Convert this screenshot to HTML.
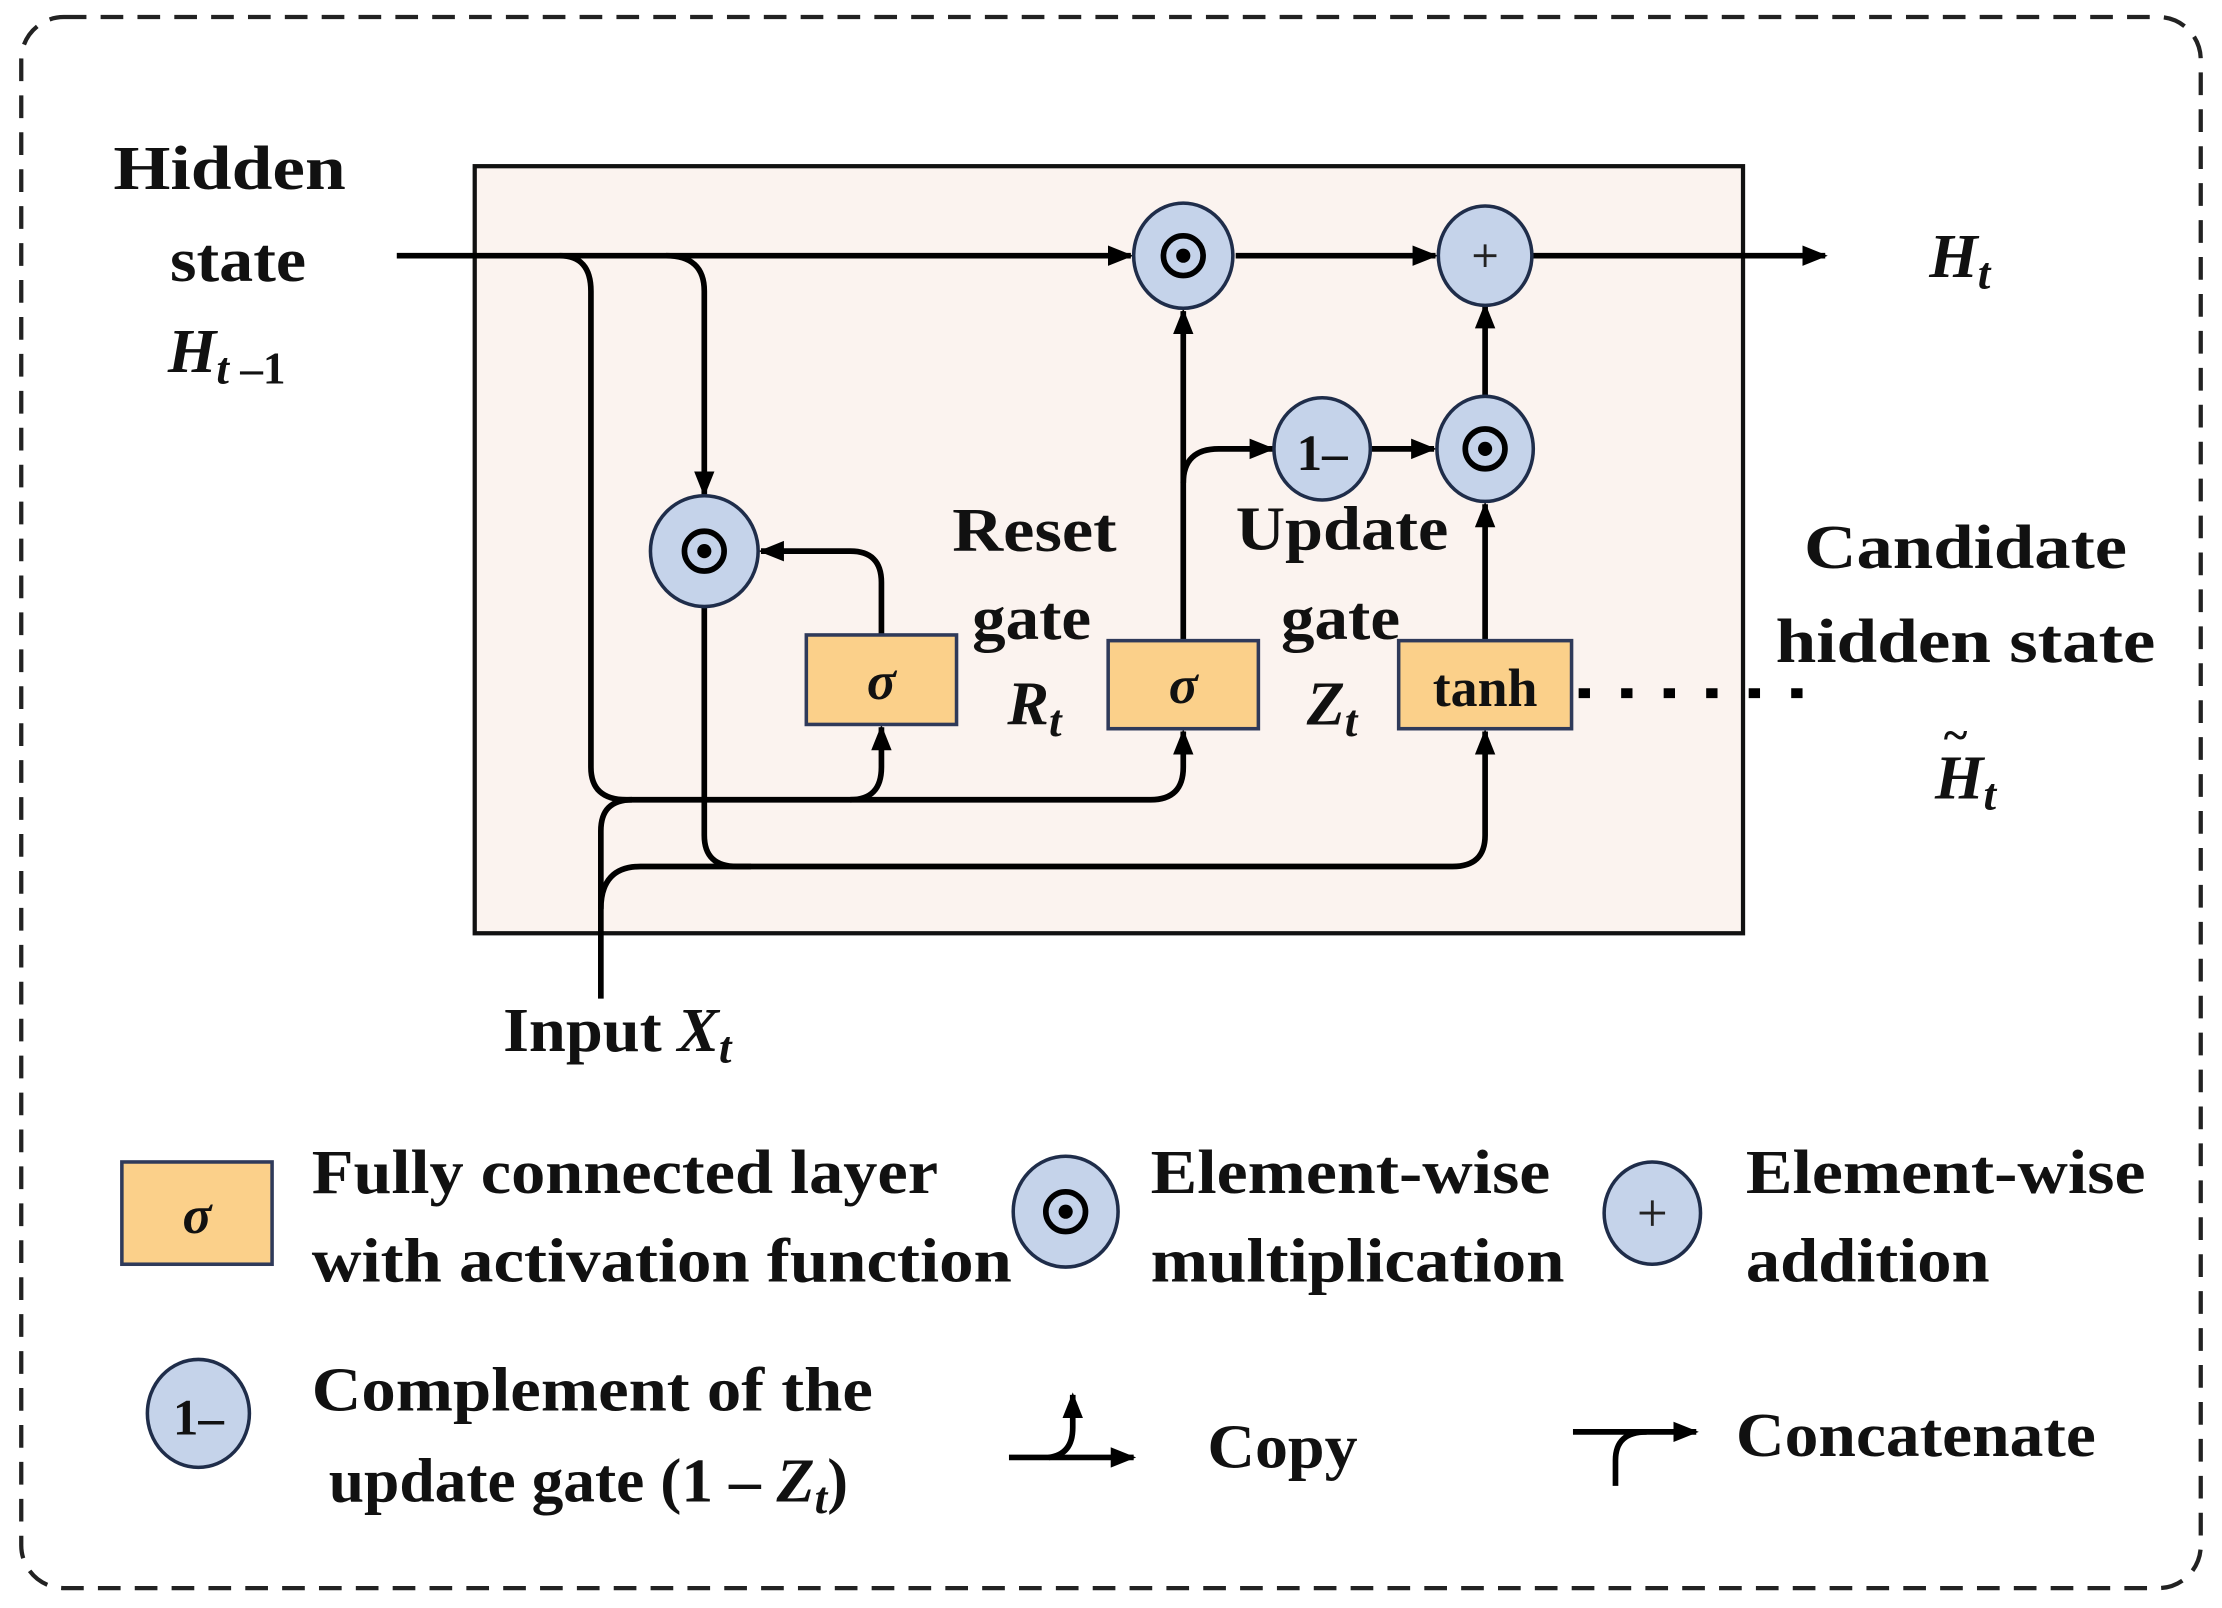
<!DOCTYPE html>
<html><head><meta charset="utf-8"><style>html,body{margin:0;padding:0;background:#fff}svg{display:block}</style></head>
<body>
<svg width="2222" height="1608" viewBox="0 0 1568 1132" preserveAspectRatio="none" xmlns="http://www.w3.org/2000/svg" font-family="'Liberation Serif',serif" font-weight="bold">
<defs>
<marker id="b" viewBox="0 0 10 10" refX="9" refY="5" markerWidth="18" markerHeight="18" orient="auto" markerUnits="userSpaceOnUse"><path d="M0,1 L10,5 L0,9 z" fill="#000"/></marker>
</defs>
<rect x="15" y="12" width="1538" height="1106" rx="30" fill="none" stroke="#222" stroke-width="3" stroke-dasharray="16,10"/>
<rect x="335" y="117" width="895" height="540" fill="#fbf3ef" stroke="#111" stroke-width="3"/>
<g fill="none" stroke="#000" stroke-width="4">
<path d="M280,180 H798" marker-end="url(#b)"/>
<path d="M872,180 H1013" marker-end="url(#b)"/>
<path d="M1082,180 H1288" marker-end="url(#b)"/>
<path d="M395,180 Q417,180 417,205 V540 Q417,563 442,563 H600 Q622,563 622,540 V512" marker-end="url(#b)"/>
<path d="M600,563 H812 Q835,563 835,540 V515" marker-end="url(#b)"/>
<path d="M470,180 Q497,180 497,205 V348" marker-end="url(#b)"/>
<path d="M497,426 V588 Q497,610 520,610 H1025 Q1048,610 1048,588 V515" marker-end="url(#b)"/>
<path d="M424,703 V585 Q424,563 446,563"/>
<path d="M424,640 Q424,610 452,610 H530"/>
<path d="M622,447 V410 Q622,388 600,388 H537" marker-end="url(#b)"/>
<path d="M835,451 V219" marker-end="url(#b)"/>
<path d="M835,340 Q835,316 860,316 H898" marker-end="url(#b)"/>
<path d="M968,316 H1012" marker-end="url(#b)"/>
<path d="M1048,451 V355" marker-end="url(#b)"/>
<path d="M1048,279 V215" marker-end="url(#b)"/>
<path d="M1114,488 H1292" stroke-width="7" stroke-dasharray="8,22"/>
<path d="M712,1026 H800" marker-end="url(#b)"/>
<path d="M740,1026 Q757,1024 757,1005 V982" marker-end="url(#b)"/>
<path d="M1110,1008 H1197" marker-end="url(#b)"/>
<path d="M1140,1046 V1028 Q1140,1008 1162,1008"/>
</g>
<g fill="#c5d3ea" stroke="#1f2d4a" stroke-width="2.5">
<ellipse cx="835" cy="180" rx="35" ry="37"/>
<ellipse cx="1048" cy="180" rx="33" ry="35"/>
<ellipse cx="933" cy="316" rx="34" ry="36"/>
<ellipse cx="1048" cy="316" rx="34" ry="37"/>
<ellipse cx="497" cy="388" rx="38" ry="39"/>
<ellipse cx="752" cy="853" rx="37" ry="39"/>
<ellipse cx="1166" cy="854" rx="34" ry="36"/>
<ellipse cx="140" cy="995" rx="36" ry="38"/>
</g>
<g fill="none" stroke="#000" stroke-width="4">
<circle cx="835" cy="180" r="14"/><circle cx="1048" cy="316" r="14"/><circle cx="497" cy="388" r="14"/><circle cx="752" cy="853" r="14"/>
</g>
<g fill="#000"><circle cx="835" cy="180" r="5"/><circle cx="1048" cy="316" r="5"/><circle cx="497" cy="388" r="5"/><circle cx="752" cy="853" r="5"/></g>
<g stroke="#222" stroke-width="2"><path d="M1040,180 H1056 M1048,172 V188 M1157,854 H1175 M1166,845 V863"/></g>
<g fill="#fbd08a" stroke="#2f3a5a" stroke-width="2.5">
<rect x="569" y="447" width="106" height="63"/>
<rect x="782" y="451" width="106" height="62"/>
<rect x="987" y="451" width="122" height="62"/>
<rect x="86" y="818" width="106" height="72"/>
</g>
<g font-size="44" text-anchor="middle" fill="#111">
<text x="622" y="492" font-style="italic" font-size="38">σ</text>
<text x="835" y="495" font-style="italic" font-size="38">σ</text>
<text x="1048" y="497" font-size="38">tanh</text>
<text x="139" y="868" font-style="italic" font-size="38">σ</text>
<text x="933" y="331" font-size="36">1–</text>
<text x="140" y="1010" font-size="36">1–</text>
<text x="162" y="133" textLength="164" lengthAdjust="spacingAndGlyphs">Hidden</text>
<text x="168" y="198" textLength="96" lengthAdjust="spacingAndGlyphs">state</text>
<text x="160" y="262" font-style="italic">H<tspan font-size="32" dy="8">t</tspan><tspan font-size="32" font-style="normal"> –1</tspan></text>
<text x="1383" y="195" font-style="italic">H<tspan font-size="32" dy="8">t</tspan></text>
<text x="730" y="388" textLength="116" lengthAdjust="spacingAndGlyphs">Reset</text>
<text x="728" y="450" textLength="84" lengthAdjust="spacingAndGlyphs">gate</text>
<text x="730" y="510" font-style="italic">R<tspan font-size="32" dy="8">t</tspan></text>
<text x="947" y="387" textLength="150" lengthAdjust="spacingAndGlyphs">Update</text>
<text x="946" y="450" textLength="84" lengthAdjust="spacingAndGlyphs">gate</text>
<text x="940" y="510" font-style="italic">Z<tspan font-size="32" dy="8">t</tspan></text>
<text x="1387" y="400" textLength="228" lengthAdjust="spacingAndGlyphs">Candidate</text>
<text x="1387" y="466" textLength="268" lengthAdjust="spacingAndGlyphs">hidden state</text>
<text x="1387" y="562" font-style="italic">H<tspan font-size="32" dy="8">t</tspan></text>
<text x="1380" y="528" font-size="32">~</text>
</g>
<g font-size="44" fill="#111">
<text x="355" y="740"><tspan textLength="112" lengthAdjust="spacingAndGlyphs">Input</tspan> <tspan font-style="italic">X</tspan><tspan font-style="italic" font-size="32" dy="8">t</tspan></text>
<text x="220" y="840" textLength="442" lengthAdjust="spacingAndGlyphs">Fully connected layer</text>
<text x="220" y="902" textLength="494" lengthAdjust="spacingAndGlyphs">with activation function</text>
<text x="812" y="840" textLength="282" lengthAdjust="spacingAndGlyphs">Element-wise</text>
<text x="812" y="902" textLength="292" lengthAdjust="spacingAndGlyphs">multiplication</text>
<text x="1232" y="840" textLength="282" lengthAdjust="spacingAndGlyphs">Element-wise</text>
<text x="1232" y="902" textLength="172" lengthAdjust="spacingAndGlyphs">addition</text>
<text x="220" y="993" textLength="396" lengthAdjust="spacingAndGlyphs">Complement of the</text>
<text x="232" y="1057"><tspan textLength="316" lengthAdjust="spacingAndGlyphs">update gate (1 – </tspan><tspan font-style="italic">Z</tspan><tspan font-style="italic" font-size="32" dy="8">t</tspan><tspan dy="-8">)</tspan></text>
<text x="852" y="1033" textLength="106" lengthAdjust="spacingAndGlyphs">Copy</text>
<text x="1225" y="1025" textLength="254" lengthAdjust="spacingAndGlyphs">Concatenate</text>
</g>
</svg>
</body></html>
